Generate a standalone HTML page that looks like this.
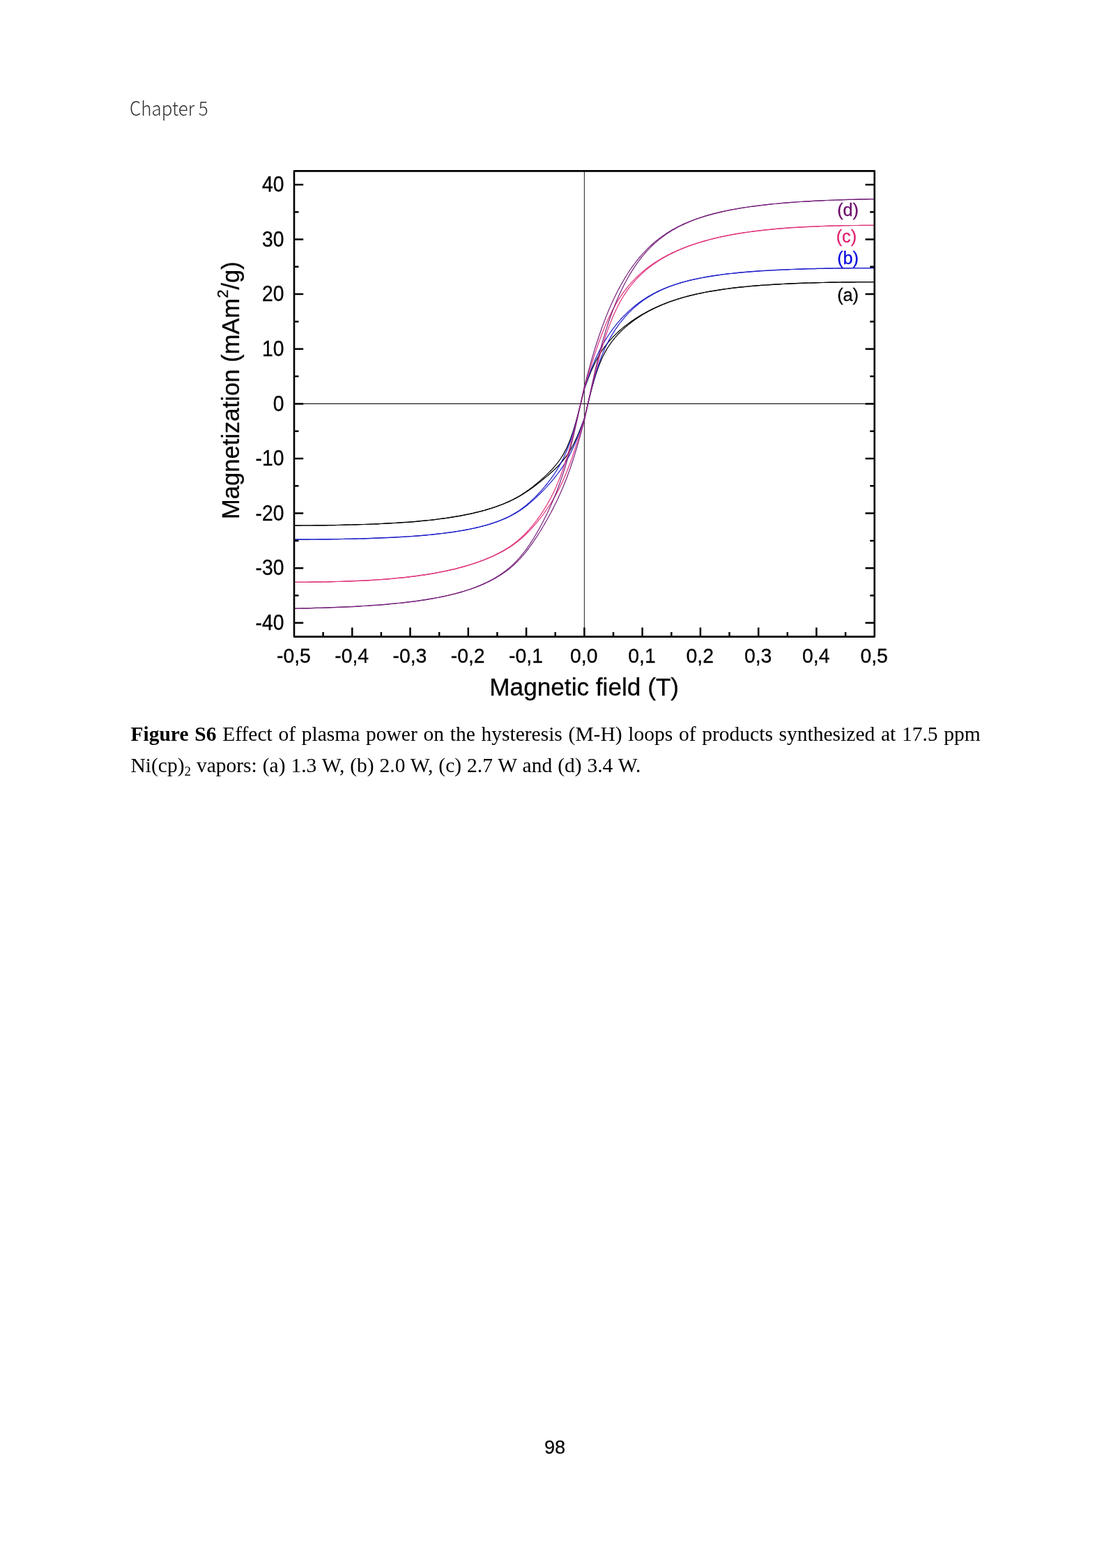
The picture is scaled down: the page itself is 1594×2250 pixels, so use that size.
<!DOCTYPE html>
<html lang="en"><head><meta charset="utf-8"><title>Chapter 5 - Figure S6</title>
<style>
html,body{margin:0;padding:0;background:#fff}
body{width:1594px;height:2250px;position:relative;overflow:hidden}
#hdr{position:absolute;left:186px;top:133.8px;font-family:"Noto Sans CJK JP","Liberation Sans",sans-serif;font-weight:300;font-size:28px;line-height:40px;color:#2e2e2e;white-space:nowrap;transform-origin:0 0;transform:scaleX(0.925)}
#chart{position:absolute;left:0;top:0}
.cap{position:absolute;left:187.5px;font-family:"Liberation Serif",serif;font-size:29.5px;line-height:44px;color:#000;white-space:nowrap}
#cap1{top:1030.7px;word-spacing:1.36px}
#cap2{top:1075.9px;word-spacing:0.58px}
.cap sub{font-size:19px;line-height:0;vertical-align:-5px}
#pg{position:absolute;left:696px;width:200px;text-align:center;top:2059px;font-family:"Liberation Sans","DejaVu Sans",sans-serif;font-size:27.2px;line-height:36px;color:#000;-webkit-text-stroke:0.25px #000}
</style></head><body>
<div id="hdr">Chapter 5</div>
<svg id="chart" width="1594" height="1030" viewBox="0 0 1594 1030">
<line x1="422.0" y1="579.4" x2="1254.7" y2="579.4" stroke="#222" stroke-width="1.1"/>
<line x1="838.4" y1="245.4" x2="838.4" y2="913.6" stroke="#333" stroke-width="1.1"/>
<path d="M422.0 754.1 L428.2 754.1 L434.5 754.0 L440.7 754.0 L447.0 754.0 L453.2 753.9 L459.5 753.8 L465.7 753.8 L472.0 753.7 L478.2 753.6 L484.5 753.5 L490.7 753.3 L496.9 753.2 L503.2 753.0 L509.4 752.9 L515.7 752.7 L521.9 752.5 L528.2 752.3 L534.4 752.0 L540.7 751.8 L546.9 751.5 L553.2 751.2 L559.4 750.9 L565.6 750.5 L571.9 750.1 L578.1 749.7 L584.4 749.3 L590.6 748.8 L596.9 748.3 L603.1 747.7 L609.4 747.1 L615.6 746.5 L621.8 745.8 L628.1 745.0 L634.3 744.2 L640.6 743.4 L646.8 742.4 L653.1 741.4 L659.3 740.3 L665.6 739.2 L671.8 737.9 L673.5 737.5 L675.1 737.2 L676.8 736.8 L678.5 736.4 L680.1 736.0 L681.8 735.6 L683.5 735.2 L685.1 734.8 L686.8 734.4 L688.5 734.0 L690.1 733.6 L691.8 733.1 L693.5 732.7 L695.1 732.2 L696.8 731.7 L698.5 731.2 L700.1 730.7 L701.8 730.2 L703.5 729.7 L705.1 729.2 L706.8 728.6 L708.4 728.1 L710.1 727.5 L711.8 727.0 L713.4 726.4 L715.1 725.8 L716.8 725.1 L718.4 724.5 L720.1 723.8 L721.8 723.2 L723.4 722.5 L725.1 721.8 L726.8 721.1 L728.4 720.3 L730.1 719.6 L731.8 718.8 L733.4 718.0 L735.1 717.2 L736.8 716.3 L738.4 715.4 L740.1 714.5 L741.8 713.6 L743.4 712.7 L745.1 711.7 L746.8 710.7 L748.4 709.7 L750.1 708.6 L751.7 707.5 L753.4 706.4 L755.1 705.3 L756.7 704.1 L758.4 702.9 L760.1 701.7 L761.7 700.4 L763.4 699.2 L765.1 697.9 L766.7 696.5 L768.4 695.2 L770.1 693.8 L771.7 692.4 L773.4 691.0 L775.1 689.6 L776.7 688.1 L778.4 686.7 L780.1 685.2 L781.7 683.6 L783.4 682.1 L785.1 680.5 L786.7 678.9 L788.4 677.2 L790.1 675.5 L791.7 673.8 L793.4 672.0 L795.0 670.1 L796.7 668.1 L798.4 666.1 L800.0 664.0 L801.7 661.8 L803.4 659.5 L805.0 657.0 L806.7 654.4 L808.4 651.6 L810.0 648.6 L811.7 645.4 L813.4 642.0 L815.0 638.3 L816.7 634.3 L818.4 630.1 L820.0 625.5 L821.7 620.6 L823.4 615.3 L825.0 609.7 L826.7 603.9 L828.4 597.7 L830.0 591.3 L831.7 584.7 L833.4 578.1 L835.0 571.3 L836.7 564.7 L838.4 558.4 L840.0 553.7 L841.7 549.1 L843.3 544.7 L845.0 540.4 L846.7 536.3 L848.3 532.3 L850.0 528.5 L851.7 524.8 L853.3 521.4 L855.0 518.1 L856.7 514.9 L858.3 511.9 L860.0 509.1 L861.7 506.3 L863.3 503.8 L865.0 501.3 L866.7 498.9 L868.3 496.7 L870.0 494.5 L871.7 492.4 L873.3 490.4 L875.0 488.4 L876.7 486.6 L878.3 484.8 L880.0 483.0 L881.7 481.3 L883.3 479.7 L885.0 478.1 L886.6 476.5 L888.3 475.0 L890.0 473.5 L891.6 472.1 L893.3 470.7 L895.0 469.3 L896.6 468.0 L898.3 466.7 L900.0 465.4 L901.6 464.1 L903.3 462.9 L905.0 461.7 L906.6 460.6 L908.3 459.4 L910.0 458.3 L911.6 457.2 L913.3 456.1 L915.0 455.1 L916.6 454.0 L918.3 453.0 L920.0 452.0 L921.6 451.0 L923.3 450.1 L925.0 449.2 L926.6 448.2 L928.3 447.3 L929.9 446.5 L931.6 445.6 L933.3 444.8 L934.9 443.9 L936.6 443.1 L938.3 442.3 L939.9 441.6 L941.6 440.8 L943.3 440.0 L944.9 439.3 L946.6 438.6 L948.3 437.9 L949.9 437.2 L951.6 436.5 L953.3 435.9 L954.9 435.2 L956.6 434.6 L958.3 433.9 L959.9 433.3 L961.6 432.7 L963.3 432.2 L964.9 431.6 L966.6 431.0 L968.3 430.5 L969.9 429.9 L971.6 429.4 L973.2 428.9 L974.9 428.4 L976.6 427.9 L978.2 427.4 L979.9 426.9 L981.6 426.4 L983.2 426.0 L984.9 425.5 L986.6 425.1 L988.2 424.7 L989.9 424.2 L991.6 423.8 L993.2 423.4 L994.9 423.0 L996.6 422.6 L998.2 422.2 L999.9 421.9 L1001.6 421.5 L1003.2 421.1 L1004.9 420.8 L1011.1 419.5 L1017.4 418.4 L1023.6 417.3 L1029.9 416.3 L1036.1 415.3 L1042.4 414.5 L1048.6 413.7 L1054.9 412.9 L1061.1 412.2 L1067.3 411.6 L1073.6 411.0 L1079.8 410.4 L1086.1 409.9 L1092.3 409.4 L1098.6 409.0 L1104.8 408.6 L1111.1 408.2 L1117.3 407.8 L1123.5 407.5 L1129.8 407.2 L1136.0 406.9 L1142.3 406.7 L1148.5 406.4 L1154.8 406.2 L1161.0 406.0 L1167.3 405.8 L1173.5 405.7 L1179.8 405.5 L1186.0 405.4 L1192.2 405.2 L1198.5 405.1 L1204.7 405.0 L1211.0 404.9 L1217.2 404.9 L1223.5 404.8 L1229.7 404.7 L1236.0 404.7 L1242.2 404.7 L1248.5 404.6 L1254.7 404.6" fill="none" stroke="#000000" stroke-width="1.2" stroke-linejoin="round"/>
<path d="M422.0 754.1 L428.2 754.1 L434.5 754.0 L440.7 754.0 L447.0 754.0 L453.2 753.9 L459.5 753.8 L465.7 753.8 L472.0 753.7 L478.2 753.6 L484.5 753.5 L490.7 753.3 L496.9 753.2 L503.2 753.0 L509.4 752.9 L515.7 752.7 L521.9 752.5 L528.2 752.3 L534.4 752.0 L540.7 751.8 L546.9 751.5 L553.2 751.2 L559.4 750.9 L565.6 750.5 L571.9 750.1 L578.1 749.7 L584.4 749.3 L590.6 748.8 L596.9 748.3 L603.1 747.7 L609.4 747.1 L615.6 746.5 L621.8 745.8 L628.1 745.0 L634.3 744.2 L640.6 743.4 L646.8 742.4 L653.1 741.4 L659.3 740.3 L665.6 739.2 L671.8 737.9 L673.5 737.6 L675.1 737.2 L676.8 736.8 L678.5 736.5 L680.1 736.1 L681.8 735.7 L683.5 735.3 L685.1 734.9 L686.8 734.5 L688.5 734.0 L690.1 733.6 L691.8 733.2 L693.5 732.7 L695.1 732.3 L696.8 731.8 L698.5 731.3 L700.1 730.8 L701.8 730.3 L703.5 729.8 L705.1 729.3 L706.8 728.8 L708.4 728.2 L710.1 727.7 L711.8 727.1 L713.4 726.5 L715.1 725.9 L716.8 725.3 L718.4 724.7 L720.1 724.0 L721.8 723.4 L723.4 722.7 L725.1 722.0 L726.8 721.3 L728.4 720.6 L730.1 719.9 L731.8 719.1 L733.4 718.3 L735.1 717.5 L736.8 716.7 L738.4 715.8 L740.1 715.0 L741.8 714.1 L743.4 713.2 L745.1 712.2 L746.8 711.2 L748.4 710.3 L750.1 709.2 L751.7 708.2 L753.4 707.1 L755.1 706.0 L756.7 704.9 L758.4 703.8 L760.1 702.6 L761.7 701.4 L763.4 700.2 L765.1 699.0 L766.7 697.8 L768.4 696.5 L770.1 695.2 L771.7 693.9 L773.4 692.6 L775.1 691.3 L776.7 690.0 L778.4 688.6 L780.1 687.3 L781.7 685.9 L783.4 684.5 L785.1 683.1 L786.7 681.7 L788.4 680.3 L790.1 678.8 L791.7 677.3 L793.4 675.8 L795.0 674.2 L796.7 672.7 L798.4 671.0 L800.0 669.3 L801.7 667.6 L803.4 665.8 L805.0 663.9 L806.7 662.0 L808.4 660.0 L810.0 657.9 L811.7 655.6 L813.4 653.3 L815.0 650.9 L816.7 648.3 L818.4 645.6 L820.0 642.7 L821.7 639.7 L823.4 636.5 L825.0 633.1 L826.7 629.5 L828.4 625.8 L830.0 621.9 L831.7 617.8 L833.4 613.6 L835.0 609.2 L836.7 604.7 L838.4 600.3 L840.0 593.7 L841.7 587.0 L843.3 580.2 L845.0 573.5 L846.7 566.9 L848.3 560.4 L850.0 554.1 L851.7 548.2 L853.3 542.5 L855.0 537.1 L856.7 532.1 L858.3 527.4 L860.0 523.0 L861.7 518.9 L863.3 515.1 L865.0 511.5 L866.7 508.2 L868.3 505.1 L870.0 502.1 L871.7 499.3 L873.3 496.7 L875.0 494.3 L876.7 491.9 L878.3 489.7 L880.0 487.5 L881.7 485.5 L883.3 483.5 L885.0 481.6 L886.6 479.8 L888.3 478.0 L890.0 476.4 L891.6 474.7 L893.3 473.1 L895.0 471.6 L896.6 470.1 L898.3 468.6 L900.0 467.2 L901.6 465.9 L903.3 464.5 L905.0 463.2 L906.6 462.0 L908.3 460.7 L910.0 459.5 L911.6 458.3 L913.3 457.2 L915.0 456.1 L916.6 455.0 L918.3 453.9 L920.0 452.8 L921.6 451.8 L923.3 450.8 L925.0 449.8 L926.6 448.9 L928.3 447.9 L929.9 447.0 L931.6 446.1 L933.3 445.2 L934.9 444.4 L936.6 443.6 L938.3 442.7 L939.9 441.9 L941.6 441.1 L943.3 440.4 L944.9 439.6 L946.6 438.9 L948.3 438.2 L949.9 437.4 L951.6 436.8 L953.3 436.1 L954.9 435.4 L956.6 434.8 L958.3 434.1 L959.9 433.5 L961.6 432.9 L963.3 432.3 L964.9 431.7 L966.6 431.1 L968.3 430.6 L969.9 430.0 L971.6 429.5 L973.2 429.0 L974.9 428.5 L976.6 428.0 L978.2 427.5 L979.9 427.0 L981.6 426.5 L983.2 426.0 L984.9 425.6 L986.6 425.1 L988.2 424.7 L989.9 424.3 L991.6 423.9 L993.2 423.5 L994.9 423.1 L996.6 422.7 L998.2 422.3 L999.9 421.9 L1001.6 421.5 L1003.2 421.2 L1004.9 420.8 L1011.1 419.5 L1017.4 418.4 L1023.6 417.3 L1029.9 416.3 L1036.1 415.3 L1042.4 414.5 L1048.6 413.7 L1054.9 412.9 L1061.1 412.2 L1067.3 411.6 L1073.6 411.0 L1079.8 410.4 L1086.1 409.9 L1092.3 409.4 L1098.6 409.0 L1104.8 408.6 L1111.1 408.2 L1117.3 407.8 L1123.5 407.5 L1129.8 407.2 L1136.0 406.9 L1142.3 406.7 L1148.5 406.4 L1154.8 406.2 L1161.0 406.0 L1167.3 405.8 L1173.5 405.7 L1179.8 405.5 L1186.0 405.4 L1192.2 405.2 L1198.5 405.1 L1204.7 405.0 L1211.0 404.9 L1217.2 404.9 L1223.5 404.8 L1229.7 404.7 L1236.0 404.7 L1242.2 404.7 L1248.5 404.6 L1254.7 404.6" fill="none" stroke="#000000" stroke-width="1.2" stroke-linejoin="round"/>
<path d="M422.0 774.1 L428.2 774.1 L434.5 774.1 L440.7 774.1 L447.0 774.0 L453.2 774.0 L459.5 773.9 L465.7 773.9 L472.0 773.8 L478.2 773.7 L484.5 773.6 L490.7 773.5 L496.9 773.4 L503.2 773.3 L509.4 773.1 L515.7 773.0 L521.9 772.8 L528.2 772.6 L534.4 772.4 L540.7 772.2 L546.9 771.9 L553.2 771.7 L559.4 771.4 L565.6 771.1 L571.9 770.7 L578.1 770.4 L584.4 770.0 L590.6 769.5 L596.9 769.1 L603.1 768.6 L609.4 768.1 L615.6 767.5 L621.8 766.9 L628.1 766.2 L634.3 765.5 L640.6 764.7 L646.8 763.9 L653.1 762.9 L659.3 761.9 L665.6 760.9 L671.8 759.7 L673.5 759.3 L675.1 759.0 L676.8 758.6 L678.5 758.3 L680.1 757.9 L681.8 757.6 L683.5 757.2 L685.1 756.8 L686.8 756.4 L688.5 756.0 L690.1 755.5 L691.8 755.1 L693.5 754.7 L695.1 754.2 L696.8 753.7 L698.5 753.3 L700.1 752.8 L701.8 752.3 L703.5 751.8 L705.1 751.2 L706.8 750.7 L708.4 750.1 L710.1 749.6 L711.8 749.0 L713.4 748.4 L715.1 747.7 L716.8 747.1 L718.4 746.4 L720.1 745.7 L721.8 745.0 L723.4 744.3 L725.1 743.6 L726.8 742.8 L728.4 742.0 L730.1 741.2 L731.8 740.3 L733.4 739.4 L735.1 738.5 L736.8 737.6 L738.4 736.6 L740.1 735.6 L741.8 734.6 L743.4 733.5 L745.1 732.4 L746.8 731.2 L748.4 730.0 L750.1 728.8 L751.7 727.5 L753.4 726.2 L755.1 724.9 L756.7 723.5 L758.4 722.0 L760.1 720.6 L761.7 719.1 L763.4 717.5 L765.1 715.9 L766.7 714.3 L768.4 712.6 L770.1 711.0 L771.7 709.2 L773.4 707.4 L775.1 705.6 L776.7 703.8 L778.4 701.9 L780.1 700.0 L781.7 698.0 L783.4 696.0 L785.1 694.0 L786.7 691.9 L788.4 689.7 L790.1 687.5 L791.7 685.2 L793.4 682.9 L795.0 680.5 L796.7 678.0 L798.4 675.4 L800.0 672.7 L801.7 669.9 L803.4 667.0 L805.0 663.9 L806.7 660.7 L808.4 657.3 L810.0 653.8 L811.7 650.0 L813.4 646.1 L815.0 641.8 L816.7 637.4 L818.4 632.7 L820.0 627.6 L821.7 622.4 L823.4 616.8 L825.0 610.9 L826.7 604.8 L828.4 598.4 L830.0 591.8 L831.7 585.1 L833.4 578.3 L835.0 571.4 L836.7 564.6 L838.4 558.1 L840.0 553.1 L841.7 548.2 L843.3 543.4 L845.0 538.7 L846.7 534.2 L848.3 529.8 L850.0 525.6 L851.7 521.5 L853.3 517.5 L855.0 513.8 L856.7 510.1 L858.3 506.7 L860.0 503.3 L861.7 500.1 L863.3 497.0 L865.0 494.0 L866.7 491.1 L868.3 488.3 L870.0 485.6 L871.7 483.0 L873.3 480.5 L875.0 478.0 L876.7 475.6 L878.3 473.3 L880.0 471.1 L881.7 468.9 L883.3 466.8 L885.0 464.7 L886.6 462.7 L888.3 460.8 L890.0 458.9 L891.6 457.0 L893.3 455.2 L895.0 453.5 L896.6 451.8 L898.3 450.1 L900.0 448.5 L901.6 446.9 L903.3 445.4 L905.0 443.9 L906.6 442.4 L908.3 441.0 L910.0 439.6 L911.6 438.3 L913.3 437.0 L915.0 435.7 L916.6 434.5 L918.3 433.3 L920.0 432.1 L921.6 430.9 L923.3 429.8 L925.0 428.7 L926.6 427.6 L928.3 426.6 L929.9 425.6 L931.6 424.6 L933.3 423.7 L934.9 422.7 L936.6 421.8 L938.3 420.9 L939.9 420.1 L941.6 419.2 L943.3 418.4 L944.9 417.6 L946.6 416.8 L948.3 416.1 L949.9 415.4 L951.6 414.6 L953.3 413.9 L954.9 413.3 L956.6 412.6 L958.3 411.9 L959.9 411.3 L961.6 410.7 L963.3 410.1 L964.9 409.5 L966.6 408.9 L968.3 408.4 L969.9 407.8 L971.6 407.3 L973.2 406.8 L974.9 406.3 L976.6 405.8 L978.2 405.3 L979.9 404.8 L981.6 404.4 L983.2 403.9 L984.9 403.5 L986.6 403.1 L988.2 402.7 L989.9 402.2 L991.6 401.9 L993.2 401.5 L994.9 401.1 L996.6 400.7 L998.2 400.4 L999.9 400.0 L1001.6 399.7 L1003.2 399.3 L1004.9 399.0 L1011.1 397.8 L1017.4 396.7 L1023.6 395.7 L1029.9 394.8 L1036.1 394.0 L1042.4 393.2 L1048.6 392.5 L1054.9 391.8 L1061.1 391.2 L1067.3 390.6 L1073.6 390.1 L1079.8 389.6 L1086.1 389.1 L1092.3 388.7 L1098.6 388.3 L1104.8 388.0 L1111.1 387.6 L1117.3 387.3 L1123.5 387.0 L1129.8 386.8 L1136.0 386.5 L1142.3 386.3 L1148.5 386.1 L1154.8 385.9 L1161.0 385.7 L1167.3 385.6 L1173.5 385.4 L1179.8 385.3 L1186.0 385.2 L1192.2 385.1 L1198.5 385.0 L1204.7 384.9 L1211.0 384.8 L1217.2 384.8 L1223.5 384.7 L1229.7 384.7 L1236.0 384.6 L1242.2 384.6 L1248.5 384.6 L1254.7 384.6" fill="none" stroke="#1c1cc8" stroke-width="1.2" stroke-linejoin="round"/>
<path d="M422.0 774.1 L428.2 774.1 L434.5 774.1 L440.7 774.1 L447.0 774.0 L453.2 774.0 L459.5 773.9 L465.7 773.9 L472.0 773.8 L478.2 773.7 L484.5 773.6 L490.7 773.5 L496.9 773.4 L503.2 773.3 L509.4 773.1 L515.7 773.0 L521.9 772.8 L528.2 772.6 L534.4 772.4 L540.7 772.2 L546.9 771.9 L553.2 771.7 L559.4 771.4 L565.6 771.1 L571.9 770.7 L578.1 770.4 L584.4 770.0 L590.6 769.6 L596.9 769.1 L603.1 768.6 L609.4 768.1 L615.6 767.5 L621.8 766.9 L628.1 766.2 L634.3 765.5 L640.6 764.7 L646.8 763.9 L653.1 763.0 L659.3 762.0 L665.6 760.9 L671.8 759.7 L673.5 759.4 L675.1 759.0 L676.8 758.7 L678.5 758.3 L680.1 758.0 L681.8 757.6 L683.5 757.2 L685.1 756.8 L686.8 756.5 L688.5 756.0 L690.1 755.6 L691.8 755.2 L693.5 754.8 L695.1 754.3 L696.8 753.9 L698.5 753.4 L700.1 752.9 L701.8 752.4 L703.5 751.9 L705.1 751.4 L706.8 750.9 L708.4 750.3 L710.1 749.7 L711.8 749.2 L713.4 748.6 L715.1 748.0 L716.8 747.3 L718.4 746.7 L720.1 746.0 L721.8 745.3 L723.4 744.6 L725.1 743.9 L726.8 743.1 L728.4 742.4 L730.1 741.6 L731.8 740.8 L733.4 739.9 L735.1 739.0 L736.8 738.1 L738.4 737.2 L740.1 736.2 L741.8 735.2 L743.4 734.2 L745.1 733.1 L746.8 732.0 L748.4 730.9 L750.1 729.7 L751.7 728.5 L753.4 727.2 L755.1 726.0 L756.7 724.7 L758.4 723.3 L760.1 721.9 L761.7 720.5 L763.4 719.1 L765.1 717.6 L766.7 716.1 L768.4 714.6 L770.1 713.0 L771.7 711.4 L773.4 709.8 L775.1 708.2 L776.7 706.5 L778.4 704.8 L780.1 703.1 L781.7 701.3 L783.4 699.6 L785.1 697.8 L786.7 695.9 L788.4 694.1 L790.1 692.2 L791.7 690.3 L793.4 688.3 L795.0 686.3 L796.7 684.2 L798.4 682.1 L800.0 680.0 L801.7 677.7 L803.4 675.4 L805.0 673.1 L806.7 670.6 L808.4 668.1 L810.0 665.5 L811.7 662.8 L813.4 659.9 L815.0 657.0 L816.7 653.9 L818.4 650.7 L820.0 647.3 L821.7 643.8 L823.4 640.2 L825.0 636.4 L826.7 632.4 L828.4 628.2 L830.0 623.9 L831.7 619.5 L833.4 614.9 L835.0 610.1 L836.7 605.2 L838.4 600.6 L840.0 593.8 L841.7 586.9 L843.3 580.0 L845.0 573.1 L846.7 566.3 L848.3 559.6 L850.0 553.2 L851.7 546.9 L853.3 541.0 L855.0 535.2 L856.7 529.8 L858.3 524.7 L860.0 519.8 L861.7 515.2 L863.3 510.8 L865.0 506.7 L866.7 502.8 L868.3 499.1 L870.0 495.5 L871.7 492.1 L873.3 488.9 L875.0 485.8 L876.7 482.9 L878.3 480.1 L880.0 477.3 L881.7 474.7 L883.3 472.2 L885.0 469.8 L886.6 467.4 L888.3 465.2 L890.0 463.0 L891.6 460.8 L893.3 458.8 L895.0 456.8 L896.6 454.9 L898.3 453.0 L900.0 451.2 L901.6 449.4 L903.3 447.7 L905.0 446.1 L906.6 444.5 L908.3 442.9 L910.0 441.4 L911.6 440.0 L913.3 438.5 L915.0 437.2 L916.6 435.8 L918.3 434.5 L920.0 433.3 L921.6 432.0 L923.3 430.8 L925.0 429.7 L926.6 428.6 L928.3 427.5 L929.9 426.4 L931.6 425.4 L933.3 424.4 L934.9 423.4 L936.6 422.4 L938.3 421.5 L939.9 420.6 L941.6 419.7 L943.3 418.9 L944.9 418.1 L946.6 417.3 L948.3 416.5 L949.9 415.7 L951.6 415.0 L953.3 414.2 L954.9 413.5 L956.6 412.9 L958.3 412.2 L959.9 411.5 L961.6 410.9 L963.3 410.3 L964.9 409.7 L966.6 409.1 L968.3 408.5 L969.9 408.0 L971.6 407.5 L973.2 406.9 L974.9 406.4 L976.6 405.9 L978.2 405.4 L979.9 404.9 L981.6 404.5 L983.2 404.0 L984.9 403.6 L986.6 403.2 L988.2 402.7 L989.9 402.3 L991.6 401.9 L993.2 401.5 L994.9 401.1 L996.6 400.8 L998.2 400.4 L999.9 400.1 L1001.6 399.7 L1003.2 399.4 L1004.9 399.0 L1011.1 397.8 L1017.4 396.8 L1023.6 395.8 L1029.9 394.8 L1036.1 394.0 L1042.4 393.2 L1048.6 392.5 L1054.9 391.8 L1061.1 391.2 L1067.3 390.6 L1073.6 390.1 L1079.8 389.6 L1086.1 389.2 L1092.3 388.7 L1098.6 388.3 L1104.8 388.0 L1111.1 387.6 L1117.3 387.3 L1123.5 387.0 L1129.8 386.8 L1136.0 386.5 L1142.3 386.3 L1148.5 386.1 L1154.8 385.9 L1161.0 385.7 L1167.3 385.6 L1173.5 385.4 L1179.8 385.3 L1186.0 385.2 L1192.2 385.1 L1198.5 385.0 L1204.7 384.9 L1211.0 384.8 L1217.2 384.8 L1223.5 384.7 L1229.7 384.7 L1236.0 384.6 L1242.2 384.6 L1248.5 384.6 L1254.7 384.6" fill="none" stroke="#1c1cc8" stroke-width="1.2" stroke-linejoin="round"/>
<path d="M422.0 835.4 L428.2 835.4 L434.5 835.3 L440.7 835.3 L447.0 835.2 L453.2 835.2 L459.5 835.1 L465.7 835.0 L472.0 834.9 L478.2 834.7 L484.5 834.5 L490.7 834.4 L496.9 834.2 L503.2 833.9 L509.4 833.7 L515.7 833.4 L521.9 833.1 L528.2 832.8 L534.4 832.4 L540.7 832.0 L546.9 831.5 L553.2 831.1 L559.4 830.6 L565.6 830.0 L571.9 829.4 L578.1 828.8 L584.4 828.1 L590.6 827.4 L596.9 826.6 L603.1 825.7 L609.4 824.8 L615.6 823.8 L621.8 822.8 L628.1 821.6 L634.3 820.4 L640.6 819.1 L646.8 817.7 L653.1 816.3 L659.3 814.7 L665.6 812.9 L671.8 811.1 L673.5 810.6 L675.1 810.1 L676.8 809.5 L678.5 809.0 L680.1 808.5 L681.8 807.9 L683.5 807.3 L685.1 806.7 L686.8 806.1 L688.5 805.5 L690.1 804.9 L691.8 804.3 L693.5 803.6 L695.1 803.0 L696.8 802.3 L698.5 801.6 L700.1 800.9 L701.8 800.2 L703.5 799.5 L705.1 798.7 L706.8 798.0 L708.4 797.2 L710.1 796.4 L711.8 795.6 L713.4 794.7 L715.1 793.9 L716.8 793.0 L718.4 792.1 L720.1 791.2 L721.8 790.3 L723.4 789.3 L725.1 788.3 L726.8 787.3 L728.4 786.2 L730.1 785.2 L731.8 784.1 L733.4 782.9 L735.1 781.7 L736.8 780.5 L738.4 779.3 L740.1 778.0 L741.8 776.6 L743.4 775.2 L745.1 773.8 L746.8 772.4 L748.4 770.8 L750.1 769.3 L751.7 767.7 L753.4 766.0 L755.1 764.3 L756.7 762.5 L758.4 760.7 L760.1 758.8 L761.7 756.9 L763.4 754.9 L765.1 752.9 L766.7 750.8 L768.4 748.7 L770.1 746.5 L771.7 744.2 L773.4 741.9 L775.1 739.5 L776.7 737.1 L778.4 734.6 L780.1 732.0 L781.7 729.4 L783.4 726.6 L785.1 723.8 L786.7 720.9 L788.4 717.9 L790.1 714.8 L791.7 711.6 L793.4 708.2 L795.0 704.8 L796.7 701.2 L798.4 697.4 L800.0 693.5 L801.7 689.5 L803.4 685.2 L805.0 680.8 L806.7 676.2 L808.4 671.4 L810.0 666.5 L811.7 661.3 L813.4 655.9 L815.0 650.3 L816.7 644.6 L818.4 638.6 L820.0 632.5 L821.7 626.2 L823.4 619.7 L825.0 613.1 L826.7 606.3 L828.4 599.4 L830.0 592.4 L831.7 585.4 L833.4 578.3 L835.0 571.1 L836.7 564.0 L838.4 557.2 L840.0 551.5 L841.7 545.9 L843.3 540.2 L845.0 534.7 L846.7 529.2 L848.3 523.8 L850.0 518.5 L851.7 513.2 L853.3 508.1 L855.0 503.1 L856.7 498.2 L858.3 493.4 L860.0 488.8 L861.7 484.2 L863.3 479.8 L865.0 475.6 L866.7 471.4 L868.3 467.4 L870.0 463.6 L871.7 459.8 L873.3 456.2 L875.0 452.7 L876.7 449.3 L878.3 446.0 L880.0 442.9 L881.7 439.8 L883.3 436.9 L885.0 434.0 L886.6 431.3 L888.3 428.6 L890.0 426.0 L891.6 423.6 L893.3 421.2 L895.0 418.9 L896.6 416.6 L898.3 414.5 L900.0 412.4 L901.6 410.3 L903.3 408.4 L905.0 406.4 L906.6 404.6 L908.3 402.8 L910.0 401.1 L911.6 399.4 L913.3 397.7 L915.0 396.1 L916.6 394.6 L918.3 393.1 L920.0 391.6 L921.6 390.1 L923.3 388.7 L925.0 387.4 L926.6 386.1 L928.3 384.8 L929.9 383.5 L931.6 382.3 L933.3 381.1 L934.9 379.9 L936.6 378.7 L938.3 377.6 L939.9 376.5 L941.6 375.5 L943.3 374.4 L944.9 373.4 L946.6 372.4 L948.3 371.4 L949.9 370.4 L951.6 369.5 L953.3 368.6 L954.9 367.7 L956.6 366.8 L958.3 365.9 L959.9 365.1 L961.6 364.3 L963.3 363.4 L964.9 362.6 L966.6 361.9 L968.3 361.1 L969.9 360.3 L971.6 359.6 L973.2 358.9 L974.9 358.2 L976.6 357.5 L978.2 356.8 L979.9 356.1 L981.6 355.5 L983.2 354.8 L984.9 354.2 L986.6 353.6 L988.2 353.0 L989.9 352.4 L991.6 351.8 L993.2 351.2 L994.9 350.6 L996.6 350.1 L998.2 349.5 L999.9 349.0 L1001.6 348.5 L1003.2 348.0 L1004.9 347.5 L1011.1 345.6 L1017.4 344.0 L1023.6 342.4 L1029.9 340.9 L1036.1 339.5 L1042.4 338.2 L1048.6 337.0 L1054.9 335.9 L1061.1 334.9 L1067.3 333.9 L1073.6 333.0 L1079.8 332.1 L1086.1 331.3 L1092.3 330.6 L1098.6 329.9 L1104.8 329.3 L1111.1 328.7 L1117.3 328.1 L1123.5 327.6 L1129.8 327.1 L1136.0 326.7 L1142.3 326.3 L1148.5 325.9 L1154.8 325.6 L1161.0 325.3 L1167.3 325.0 L1173.5 324.8 L1179.8 324.5 L1186.0 324.3 L1192.2 324.2 L1198.5 324.0 L1204.7 323.8 L1211.0 323.7 L1217.2 323.6 L1223.5 323.5 L1229.7 323.5 L1236.0 323.4 L1242.2 323.4 L1248.5 323.3 L1254.7 323.3" fill="none" stroke="#e0307a" stroke-width="1.2" stroke-linejoin="round"/>
<path d="M422.0 835.4 L428.2 835.4 L434.5 835.3 L440.7 835.3 L447.0 835.2 L453.2 835.2 L459.5 835.1 L465.7 835.0 L472.0 834.9 L478.2 834.7 L484.5 834.5 L490.7 834.4 L496.9 834.2 L503.2 833.9 L509.4 833.7 L515.7 833.4 L521.9 833.1 L528.2 832.8 L534.4 832.4 L540.7 832.0 L546.9 831.6 L553.2 831.1 L559.4 830.6 L565.6 830.0 L571.9 829.4 L578.1 828.8 L584.4 828.1 L590.6 827.4 L596.9 826.6 L603.1 825.7 L609.4 824.8 L615.6 823.8 L621.8 822.8 L628.1 821.7 L634.3 820.5 L640.6 819.2 L646.8 817.8 L653.1 816.3 L659.3 814.7 L665.6 813.1 L671.8 811.2 L673.5 810.7 L675.1 810.2 L676.8 809.7 L678.5 809.2 L680.1 808.6 L681.8 808.1 L683.5 807.5 L685.1 806.9 L686.8 806.3 L688.5 805.7 L690.1 805.1 L691.8 804.5 L693.5 803.9 L695.1 803.2 L696.8 802.6 L698.5 801.9 L700.1 801.2 L701.8 800.5 L703.5 799.8 L705.1 799.1 L706.8 798.3 L708.4 797.6 L710.1 796.8 L711.8 796.0 L713.4 795.2 L715.1 794.4 L716.8 793.5 L718.4 792.7 L720.1 791.8 L721.8 790.9 L723.4 789.9 L725.1 789.0 L726.8 788.0 L728.4 787.0 L730.1 786.0 L731.8 784.9 L733.4 783.8 L735.1 782.7 L736.8 781.5 L738.4 780.3 L740.1 779.1 L741.8 777.8 L743.4 776.5 L745.1 775.1 L746.8 773.8 L748.4 772.3 L750.1 770.8 L751.7 769.3 L753.4 767.8 L755.1 766.2 L756.7 764.5 L758.4 762.8 L760.1 761.1 L761.7 759.3 L763.4 757.5 L765.1 755.7 L766.7 753.8 L768.4 751.8 L770.1 749.8 L771.7 747.8 L773.4 745.7 L775.1 743.6 L776.7 741.5 L778.4 739.3 L780.1 737.0 L781.7 734.7 L783.4 732.4 L785.1 730.0 L786.7 727.6 L788.4 725.0 L790.1 722.5 L791.7 719.8 L793.4 717.1 L795.0 714.3 L796.7 711.4 L798.4 708.4 L800.0 705.3 L801.7 702.1 L803.4 698.8 L805.0 695.4 L806.7 691.9 L808.4 688.2 L810.0 684.4 L811.7 680.5 L813.4 676.5 L815.0 672.3 L816.7 668.0 L818.4 663.5 L820.0 658.9 L821.7 654.2 L823.4 649.3 L825.0 644.3 L826.7 639.2 L828.4 634.0 L830.0 628.7 L831.7 623.3 L833.4 617.9 L835.0 612.3 L836.7 606.7 L838.4 601.5 L840.0 594.3 L841.7 587.1 L843.3 579.9 L845.0 572.7 L846.7 565.5 L848.3 558.4 L850.0 551.4 L851.7 544.5 L853.3 537.7 L855.0 531.1 L856.7 524.6 L858.3 518.3 L860.0 512.1 L861.7 506.2 L863.3 500.4 L865.0 494.8 L866.7 489.4 L868.3 484.2 L870.0 479.2 L871.7 474.4 L873.3 469.8 L875.0 465.4 L876.7 461.1 L878.3 457.0 L880.0 453.1 L881.7 449.3 L883.3 445.7 L885.0 442.3 L886.6 438.9 L888.3 435.8 L890.0 432.7 L891.6 429.8 L893.3 427.0 L895.0 424.2 L896.6 421.6 L898.3 419.1 L900.0 416.7 L901.6 414.4 L903.3 412.2 L905.0 410.0 L906.6 407.9 L908.3 405.9 L910.0 404.0 L911.6 402.1 L913.3 400.3 L915.0 398.5 L916.6 396.8 L918.3 395.2 L920.0 393.6 L921.6 392.0 L923.3 390.5 L925.0 389.1 L926.6 387.6 L928.3 386.3 L929.9 384.9 L931.6 383.6 L933.3 382.3 L934.9 381.1 L936.6 379.9 L938.3 378.7 L939.9 377.5 L941.6 376.4 L943.3 375.3 L944.9 374.2 L946.6 373.2 L948.3 372.1 L949.9 371.1 L951.6 370.2 L953.3 369.2 L954.9 368.3 L956.6 367.4 L958.3 366.5 L959.9 365.6 L961.6 364.7 L963.3 363.9 L964.9 363.1 L966.6 362.3 L968.3 361.5 L969.9 360.7 L971.6 360.0 L973.2 359.2 L974.9 358.5 L976.6 357.8 L978.2 357.1 L979.9 356.4 L981.6 355.7 L983.2 355.1 L984.9 354.4 L986.6 353.8 L988.2 353.2 L989.9 352.6 L991.6 352.0 L993.2 351.4 L994.9 350.8 L996.6 350.2 L998.2 349.7 L999.9 349.2 L1001.6 348.6 L1003.2 348.1 L1004.9 347.6 L1011.1 345.8 L1017.4 344.0 L1023.6 342.4 L1029.9 341.0 L1036.1 339.6 L1042.4 338.3 L1048.6 337.1 L1054.9 335.9 L1061.1 334.9 L1067.3 333.9 L1073.6 333.0 L1079.8 332.1 L1086.1 331.3 L1092.3 330.6 L1098.6 329.9 L1104.8 329.3 L1111.1 328.7 L1117.3 328.1 L1123.5 327.6 L1129.8 327.2 L1136.0 326.7 L1142.3 326.3 L1148.5 325.9 L1154.8 325.6 L1161.0 325.3 L1167.3 325.0 L1173.5 324.8 L1179.8 324.5 L1186.0 324.3 L1192.2 324.2 L1198.5 324.0 L1204.7 323.8 L1211.0 323.7 L1217.2 323.6 L1223.5 323.5 L1229.7 323.5 L1236.0 323.4 L1242.2 323.4 L1248.5 323.3 L1254.7 323.3" fill="none" stroke="#e0307a" stroke-width="1.2" stroke-linejoin="round"/>
<path d="M422.0 873.1 L428.2 873.0 L434.5 872.9 L440.7 872.8 L447.0 872.6 L453.2 872.4 L459.5 872.3 L465.7 872.1 L472.0 871.9 L478.2 871.7 L484.5 871.4 L490.7 871.2 L496.9 870.9 L503.2 870.6 L509.4 870.3 L515.7 869.9 L521.9 869.5 L528.2 869.2 L534.4 868.7 L540.7 868.3 L546.9 867.8 L553.2 867.3 L559.4 866.7 L565.6 866.2 L571.9 865.5 L578.1 864.9 L584.4 864.1 L590.6 863.4 L596.9 862.6 L603.1 861.7 L609.4 860.7 L615.6 859.7 L621.8 858.6 L628.1 857.5 L634.3 856.2 L640.6 854.9 L646.8 853.4 L653.1 851.8 L659.3 850.1 L665.6 848.3 L671.8 846.3 L673.5 845.7 L675.1 845.2 L676.8 844.6 L678.5 844.0 L680.1 843.4 L681.8 842.7 L683.5 842.1 L685.1 841.4 L686.8 840.7 L688.5 840.1 L690.1 839.3 L691.8 838.6 L693.5 837.9 L695.1 837.1 L696.8 836.3 L698.5 835.5 L700.1 834.7 L701.8 833.9 L703.5 833.0 L705.1 832.1 L706.8 831.2 L708.4 830.3 L710.1 829.3 L711.8 828.3 L713.4 827.3 L715.1 826.2 L716.8 825.2 L718.4 824.1 L720.1 822.9 L721.8 821.7 L723.4 820.5 L725.1 819.3 L726.8 818.0 L728.4 816.7 L730.1 815.3 L731.8 813.9 L733.4 812.4 L735.1 810.9 L736.8 809.3 L738.4 807.7 L740.1 806.0 L741.8 804.2 L743.4 802.4 L745.1 800.6 L746.8 798.7 L748.4 796.7 L750.1 794.6 L751.7 792.5 L753.4 790.3 L755.1 788.1 L756.7 785.8 L758.4 783.4 L760.1 781.0 L761.7 778.4 L763.4 775.9 L765.1 773.2 L766.7 770.5 L768.4 767.7 L770.1 764.9 L771.7 762.0 L773.4 759.1 L775.1 756.0 L776.7 753.0 L778.4 749.8 L780.1 746.6 L781.7 743.3 L783.4 740.0 L785.1 736.5 L786.7 733.0 L788.4 729.5 L790.1 725.8 L791.7 722.1 L793.4 718.2 L795.0 714.3 L796.7 710.2 L798.4 706.0 L800.0 701.7 L801.7 697.3 L803.4 692.7 L805.0 687.9 L806.7 683.0 L808.4 677.9 L810.0 672.7 L811.7 667.2 L813.4 661.5 L815.0 655.6 L816.7 649.5 L818.4 643.2 L820.0 636.6 L821.7 629.9 L823.4 622.9 L825.0 615.7 L826.7 608.4 L828.4 600.9 L830.0 593.3 L831.7 585.6 L833.4 577.8 L835.0 570.0 L836.7 562.2 L838.4 554.9 L840.0 548.5 L841.7 542.2 L843.3 536.0 L845.0 529.9 L846.7 523.9 L848.3 518.0 L850.0 512.2 L851.7 506.6 L853.3 501.1 L855.0 495.8 L856.7 490.6 L858.3 485.5 L860.0 480.5 L861.7 475.7 L863.3 471.0 L865.0 466.4 L866.7 462.0 L868.3 457.7 L870.0 453.4 L871.7 449.3 L873.3 445.3 L875.0 441.4 L876.7 437.6 L878.3 433.9 L880.0 430.3 L881.7 426.8 L883.3 423.4 L885.0 420.0 L886.6 416.8 L888.3 413.6 L890.0 410.5 L891.6 407.5 L893.3 404.6 L895.0 401.7 L896.6 398.9 L898.3 396.2 L900.0 393.5 L901.6 391.0 L903.3 388.4 L905.0 386.0 L906.6 383.6 L908.3 381.3 L910.0 379.0 L911.6 376.8 L913.3 374.6 L915.0 372.5 L916.6 370.5 L918.3 368.5 L920.0 366.6 L921.6 364.7 L923.3 362.9 L925.0 361.1 L926.6 359.3 L928.3 357.6 L929.9 356.0 L931.6 354.4 L933.3 352.8 L934.9 351.3 L936.6 349.8 L938.3 348.3 L939.9 346.9 L941.6 345.5 L943.3 344.2 L944.9 342.9 L946.6 341.6 L948.3 340.4 L949.9 339.2 L951.6 338.0 L953.3 336.9 L954.9 335.7 L956.6 334.6 L958.3 333.6 L959.9 332.5 L961.6 331.5 L963.3 330.5 L964.9 329.6 L966.6 328.6 L968.3 327.7 L969.9 326.8 L971.6 326.0 L973.2 325.1 L974.9 324.3 L976.6 323.5 L978.2 322.7 L979.9 321.9 L981.6 321.1 L983.2 320.4 L984.9 319.7 L986.6 319.0 L988.2 318.3 L989.9 317.6 L991.6 317.0 L993.2 316.3 L994.9 315.7 L996.6 315.1 L998.2 314.5 L999.9 313.9 L1001.6 313.3 L1003.2 312.7 L1004.9 312.2 L1011.1 310.2 L1017.4 308.4 L1023.6 306.7 L1029.9 305.2 L1036.1 303.7 L1042.4 302.4 L1048.6 301.2 L1054.9 300.0 L1061.1 298.9 L1067.3 297.9 L1073.6 297.0 L1079.8 296.1 L1086.1 295.3 L1092.3 294.5 L1098.6 293.8 L1104.8 293.2 L1111.1 292.5 L1117.3 292.0 L1123.5 291.4 L1129.8 290.9 L1136.0 290.4 L1142.3 290.0 L1148.5 289.5 L1154.8 289.2 L1161.0 288.8 L1167.3 288.4 L1173.5 288.1 L1179.8 287.8 L1186.0 287.5 L1192.2 287.3 L1198.5 287.0 L1204.7 286.8 L1211.0 286.6 L1217.2 286.4 L1223.5 286.3 L1229.7 286.1 L1236.0 285.9 L1242.2 285.8 L1248.5 285.7 L1254.7 285.6" fill="none" stroke="#75207a" stroke-width="1.2" stroke-linejoin="round"/>
<path d="M422.0 873.1 L428.2 873.0 L434.5 872.9 L440.7 872.8 L447.0 872.6 L453.2 872.4 L459.5 872.3 L465.7 872.1 L472.0 871.9 L478.2 871.7 L484.5 871.4 L490.7 871.2 L496.9 870.9 L503.2 870.6 L509.4 870.3 L515.7 869.9 L521.9 869.5 L528.2 869.2 L534.4 868.7 L540.7 868.3 L546.9 867.8 L553.2 867.3 L559.4 866.7 L565.6 866.2 L571.9 865.5 L578.1 864.9 L584.4 864.2 L590.6 863.4 L596.9 862.6 L603.1 861.7 L609.4 860.8 L615.6 859.8 L621.8 858.7 L628.1 857.5 L634.3 856.3 L640.6 855.0 L646.8 853.5 L653.1 852.0 L659.3 850.3 L665.6 848.5 L671.8 846.5 L673.5 846.0 L675.1 845.4 L676.8 844.8 L678.5 844.2 L680.1 843.6 L681.8 843.0 L683.5 842.4 L685.1 841.7 L686.8 841.1 L688.5 840.4 L690.1 839.7 L691.8 839.0 L693.5 838.3 L695.1 837.6 L696.8 836.8 L698.5 836.0 L700.1 835.2 L701.8 834.4 L703.5 833.6 L705.1 832.7 L706.8 831.8 L708.4 830.9 L710.1 830.0 L711.8 829.1 L713.4 828.1 L715.1 827.1 L716.8 826.1 L718.4 825.0 L720.1 823.9 L721.8 822.8 L723.4 821.6 L725.1 820.4 L726.8 819.2 L728.4 818.0 L730.1 816.7 L731.8 815.3 L733.4 813.9 L735.1 812.5 L736.8 811.0 L738.4 809.5 L740.1 807.9 L741.8 806.3 L743.4 804.6 L745.1 802.9 L746.8 801.1 L748.4 799.2 L750.1 797.3 L751.7 795.4 L753.4 793.3 L755.1 791.3 L756.7 789.1 L758.4 787.0 L760.1 784.7 L761.7 782.4 L763.4 780.1 L765.1 777.7 L766.7 775.2 L768.4 772.7 L770.1 770.2 L771.7 767.6 L773.4 765.0 L775.1 762.3 L776.7 759.6 L778.4 756.8 L780.1 754.0 L781.7 751.1 L783.4 748.3 L785.1 745.3 L786.7 742.3 L788.4 739.3 L790.1 736.2 L791.7 733.1 L793.4 729.9 L795.0 726.6 L796.7 723.3 L798.4 719.9 L800.0 716.4 L801.7 712.8 L803.4 709.1 L805.0 705.4 L806.7 701.5 L808.4 697.6 L810.0 693.5 L811.7 689.3 L813.4 685.0 L815.0 680.5 L816.7 675.9 L818.4 671.2 L820.0 666.3 L821.7 661.3 L823.4 656.1 L825.0 650.8 L826.7 645.3 L828.4 639.7 L830.0 633.9 L831.7 628.0 L833.4 622.0 L835.0 615.9 L836.7 609.7 L838.4 603.8 L840.0 596.0 L841.7 588.1 L843.3 580.2 L845.0 572.3 L846.7 564.5 L848.3 556.8 L850.0 549.1 L851.7 541.7 L853.3 534.3 L855.0 527.2 L856.7 520.2 L858.3 513.5 L860.0 506.9 L861.7 500.6 L863.3 494.5 L865.0 488.5 L866.7 482.8 L868.3 477.3 L870.0 471.9 L871.7 466.8 L873.3 461.8 L875.0 457.0 L876.7 452.3 L878.3 447.8 L880.0 443.4 L881.7 439.1 L883.3 435.0 L885.0 431.0 L886.6 427.2 L888.3 423.4 L890.0 419.8 L891.6 416.3 L893.3 412.9 L895.0 409.5 L896.6 406.3 L898.3 403.2 L900.0 400.2 L901.6 397.2 L903.3 394.4 L905.0 391.6 L906.6 388.9 L908.3 386.3 L910.0 383.7 L911.6 381.3 L913.3 378.9 L915.0 376.5 L916.6 374.3 L918.3 372.1 L920.0 369.9 L921.6 367.9 L923.3 365.9 L925.0 363.9 L926.6 362.0 L928.3 360.2 L929.9 358.4 L931.6 356.6 L933.3 354.9 L934.9 353.3 L936.6 351.7 L938.3 350.1 L939.9 348.6 L941.6 347.2 L943.3 345.7 L944.9 344.4 L946.6 343.0 L948.3 341.7 L949.9 340.4 L951.6 339.2 L953.3 338.0 L954.9 336.8 L956.6 335.6 L958.3 334.5 L959.9 333.4 L961.6 332.4 L963.3 331.3 L964.9 330.3 L966.6 329.4 L968.3 328.4 L969.9 327.5 L971.6 326.6 L973.2 325.7 L974.9 324.8 L976.6 324.0 L978.2 323.2 L979.9 322.4 L981.6 321.6 L983.2 320.8 L984.9 320.1 L986.6 319.4 L988.2 318.6 L989.9 318.0 L991.6 317.3 L993.2 316.6 L994.9 316.0 L996.6 315.3 L998.2 314.7 L999.9 314.1 L1001.6 313.5 L1003.2 313.0 L1004.9 312.4 L1011.1 310.4 L1017.4 308.6 L1023.6 306.9 L1029.9 305.3 L1036.1 303.8 L1042.4 302.5 L1048.6 301.2 L1054.9 300.1 L1061.1 299.0 L1067.3 298.0 L1073.6 297.0 L1079.8 296.1 L1086.1 295.3 L1092.3 294.6 L1098.6 293.8 L1104.8 293.2 L1111.1 292.5 L1117.3 292.0 L1123.5 291.4 L1129.8 290.9 L1136.0 290.4 L1142.3 290.0 L1148.5 289.5 L1154.8 289.2 L1161.0 288.8 L1167.3 288.4 L1173.5 288.1 L1179.8 287.8 L1186.0 287.5 L1192.2 287.3 L1198.5 287.0 L1204.7 286.8 L1211.0 286.6 L1217.2 286.4 L1223.5 286.3 L1229.7 286.1 L1236.0 285.9 L1242.2 285.8 L1248.5 285.7 L1254.7 285.6" fill="none" stroke="#75207a" stroke-width="1.2" stroke-linejoin="round"/>
<path d="M422.0 893.8h13.2M1254.7 893.8h-13.2M422.0 854.5h6.5M1254.7 854.5h-6.5M422.0 815.2h13.2M1254.7 815.2h-13.2M422.0 775.9h6.5M1254.7 775.9h-6.5M422.0 736.6h13.2M1254.7 736.6h-13.2M422.0 697.3h6.5M1254.7 697.3h-6.5M422.0 658.0h13.2M1254.7 658.0h-13.2M422.0 618.7h6.5M1254.7 618.7h-6.5M422.0 579.4h13.2M1254.7 579.4h-13.2M422.0 540.0h6.5M1254.7 540.0h-6.5M422.0 500.7h13.2M1254.7 500.7h-13.2M422.0 461.4h6.5M1254.7 461.4h-6.5M422.0 422.1h13.2M1254.7 422.1h-13.2M422.0 382.8h6.5M1254.7 382.8h-6.5M422.0 343.5h13.2M1254.7 343.5h-13.2M422.0 304.2h6.5M1254.7 304.2h-6.5M422.0 264.9h13.2M1254.7 264.9h-13.2M463.6 913.6v-6.5M505.3 913.6v-13.2M546.9 913.6v-6.5M588.5 913.6v-13.2M630.2 913.6v-6.5M671.8 913.6v-13.2M713.4 913.6v-6.5M755.1 913.6v-13.2M796.7 913.6v-6.5M838.4 913.6v-13.2M880.0 913.6v-6.5M921.6 913.6v-13.2M963.3 913.6v-6.5M1004.9 913.6v-13.2M1046.5 913.6v-6.5M1088.2 913.6v-13.2M1129.8 913.6v-6.5M1171.4 913.6v-13.2M1213.1 913.6v-6.5" stroke="#000" stroke-width="2.5" fill="none"/>
<rect x="422.0" y="245.4" width="832.7" height="668.2" fill="none" stroke="#000" stroke-width="2.6" stroke-linejoin="round"/>
<g font-family="Liberation Sans, sans-serif" font-size="30.2" fill="#000" stroke="#000" stroke-width="0.3">
<text transform="translate(407.6 904.0) scale(0.94 1.04)" text-anchor="end">-40</text>
<text transform="translate(407.6 825.4) scale(0.94 1.04)" text-anchor="end">-30</text>
<text transform="translate(407.6 746.8) scale(0.94 1.04)" text-anchor="end">-20</text>
<text transform="translate(407.6 668.2) scale(0.94 1.04)" text-anchor="end">-10</text>
<text transform="translate(407.6 589.6) scale(0.94 1.04)" text-anchor="end">0</text>
<text transform="translate(407.6 510.9) scale(0.94 1.04)" text-anchor="end">10</text>
<text transform="translate(407.6 432.3) scale(0.94 1.04)" text-anchor="end">20</text>
<text transform="translate(407.6 353.7) scale(0.94 1.04)" text-anchor="end">30</text>
<text transform="translate(407.6 275.1) scale(0.94 1.04)" text-anchor="end">40</text>
<text transform="translate(421.4 951.2) scale(0.94 1)" text-anchor="middle">-0,5</text>
<text transform="translate(504.7 951.2) scale(0.94 1)" text-anchor="middle">-0,4</text>
<text transform="translate(587.9 951.2) scale(0.94 1)" text-anchor="middle">-0,3</text>
<text transform="translate(671.2 951.2) scale(0.94 1)" text-anchor="middle">-0,2</text>
<text transform="translate(754.5 951.2) scale(0.94 1)" text-anchor="middle">-0,1</text>
<text transform="translate(837.8 951.2) scale(0.94 1)" text-anchor="middle">0,0</text>
<text transform="translate(921.0 951.2) scale(0.94 1)" text-anchor="middle">0,1</text>
<text transform="translate(1004.3 951.2) scale(0.94 1)" text-anchor="middle">0,2</text>
<text transform="translate(1087.6 951.2) scale(0.94 1)" text-anchor="middle">0,3</text>
<text transform="translate(1170.8 951.2) scale(0.94 1)" text-anchor="middle">0,4</text>
<text transform="translate(1254.1 951.2) scale(0.94 1)" text-anchor="middle">0,5</text>
</g>
<text x="838.2" y="997.7" text-anchor="middle" font-family="Liberation Sans, sans-serif" font-size="35.2" fill="#000" stroke="#000" stroke-width="0.3">Magnetic field (T)</text>
<text transform="translate(342.6 560.1) rotate(-90)" text-anchor="middle" font-family="Liberation Sans, sans-serif" font-size="34.6" fill="#000" stroke="#000" stroke-width="0.3">Magnetization (mAm<tspan font-size="22" dy="-15.5">2</tspan><tspan dy="15.5">/g)</tspan></text>
<g font-family="Liberation Sans, sans-serif" font-size="25.2" text-anchor="middle" stroke-width="0.3">
<text x="1216.6" y="310.0" fill="#6a0a6a" stroke="#6a0a6a">(d)</text>
<text x="1214.4" y="348.0" fill="#e0206e" stroke="#e0206e">(c)</text>
<text x="1216.6" y="379.2" fill="#0a0ae0" stroke="#0a0ae0">(b)</text>
<text x="1216.6" y="431.6" fill="#000" stroke="#000">(a)</text>
</g>
</svg>
<div class="cap" id="cap1"><b>Figure S6</b> Effect of plasma power on the hysteresis (M-H) loops of products synthesized at 17.5 ppm</div>
<div class="cap" id="cap2">Ni(cp)<sub>2</sub> vapors: (a) 1.3 W, (b) 2.0 W, (c) 2.7 W and (d) 3.4 W.</div>
<div id="pg">98</div>
</body></html>
